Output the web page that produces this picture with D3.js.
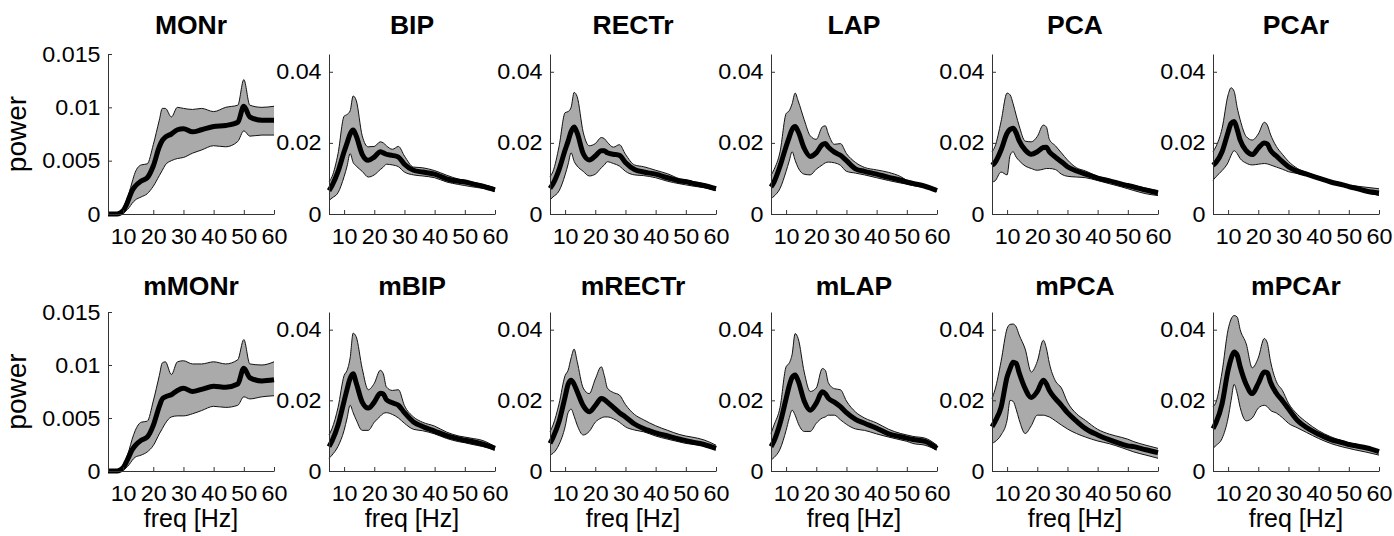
<!DOCTYPE html>
<html>
<head>
<meta charset="utf-8">
<script src="https://cdn.jsdelivr.net/npm/d3@7"></script>
<style>
  body { margin: 0; background: #fff; }
  text { font-family: "Liberation Sans", Arial, Helvetica, sans-serif; fill: #000; }
</style>
</head>
<body>
<svg id="chart" width="1394" height="536"></svg>
<script>
// frequency samples (Hz) shared by every panel
var freq = [5, 6, 8, 10, 11, 12, 13, 14, 16, 18, 20, 22, 23, 24, 26, 28, 30, 33, 36, 40, 44, 48, 50, 52, 56, 60];

// ---- top row ----
var monrMean  = [0, 0, 0, .0003, .0008, .0015, .0022, .0026, .0031, .0034, .0045, .0063, .0069, .0072, .0075, .0079, .008, .0077, .0079, .0082, .0083, .0086, .0101, .0091, .0088, .0088];
var monrUpper = [0, 0, .0001, .0006, .0012, .002, .003, .0039, .0046, .0047, .0065, .0088, .0099, .0099, .0091, .01, .0099, .0098, .0099, .0096, .01, .0102, .0126, .0102, .01, .0101];
var monrLower = [0, 0, 0, .0001, .0003, .0006, .001, .0013, .0016, .0019, .0026, .0036, .0041, .0046, .005, .0052, .0053, .0057, .006, .0064, .0063, .0068, .0078, .0073, .0074, .0074];

var bipMean  = [.0066, .008, .012, .0175, .02, .0225, .0236, .022, .0168, .0151, .016, .0175, .0172, .0168, .0165, .016, .014, .0123, .0118, .0112, .0099, .0092, .009, .0086, .0078, .0068];
var bipUpper = [.009, .0105, .017, .0275, .028, .029, .0332, .032, .022, .0189, .019, .0203, .02, .0192, .0182, .019, .0163, .0132, .013, .0122, .0109, .0098, .0095, .0091, .0083, .0074];
var bipLower = [.0038, .0045, .006, .0105, .0135, .017, .0145, .0135, .012, .0104, .011, .0125, .0132, .014, .0138, .0133, .0118, .011, .0107, .0102, .009, .0083, .008, .0077, .0072, .0064];

var rectrMean  = [.0072, .0085, .0125, .018, .0205, .0232, .0245, .0228, .017, .0152, .0163, .0178, .0178, .0172, .0168, .0165, .0145, .0125, .0118, .0112, .0102, .0093, .0091, .0087, .008, .0071];
var rectrUpper = [.0105, .012, .019, .0285, .0288, .03, .0342, .033, .023, .0192, .0198, .0215, .0212, .0202, .0188, .0195, .0168, .0138, .0133, .0123, .0113, .0099, .0096, .0092, .0085, .0075];
var rectrLower = [.004, .0048, .0065, .011, .014, .0172, .0148, .0135, .012, .0107, .0112, .013, .0138, .0147, .0142, .0135, .012, .011, .0108, .0102, .0092, .0085, .0082, .0079, .0074, .0066];

var lapMean  = [.0076, .009, .0135, .019, .0215, .0238, .0246, .0232, .0185, .0162, .0172, .0195, .0198, .0188, .0174, .0165, .015, .0127, .012, .0112, .0103, .0095, .009, .0086, .0078, .0066];
var lapUpper = [.0109, .0125, .0175, .0282, .029, .031, .034, .0318, .0265, .022, .021, .0245, .0248, .0225, .0196, .0198, .017, .0145, .0131, .0124, .0117, .0105, .0095, .0091, .0082, .0071];
var lapLower = [.0043, .005, .0072, .012, .0148, .0175, .0151, .013, .0112, .011, .0126, .0138, .0144, .0146, .0144, .0137, .012, .0115, .011, .0102, .0094, .0087, .0084, .008, .0074, .0064];

var pcaMean  = [.0137, .0145, .018, .0227, .0238, .0241, .0228, .0206, .018, .0168, .0175, .0187, .0188, .0175, .016, .0147, .0133, .0121, .0112, .0101, .0093, .0084, .008, .0076, .0067, .0059];
var pcaUpper = [.0175, .019, .026, .034, .0335, .031, .0278, .0248, .0205, .0203, .0218, .025, .0245, .021, .0192, .0172, .0152, .013, .0121, .0106, .0097, .0088, .0084, .008, .0073, .0066];
var pcaLower = [.009, .0093, .0118, .011, .0165, .0175, .016, .015, .0135, .0128, .0123, .0126, .0128, .0128, .0125, .0112, .0106, .0104, .0102, .0094, .0085, .0076, .0071, .0066, .0057, .0052];

var pcarMean  = [.0137, .0145, .0175, .023, .0255, .026, .0238, .0208, .0178, .0167, .0185, .02, .0197, .018, .0163, .0147, .0133, .012, .0112, .0101, .009, .0082, .0077, .0073, .0064, .0059];
var pcarUpper = [.0175, .019, .024, .0335, .0355, .0345, .03, .0265, .0218, .0208, .0225, .0258, .025, .0225, .019, .0168, .0148, .0128, .0117, .0105, .0094, .0086, .0081, .0079, .0075, .0071];
var pcarLower = [.0095, .0105, .0122, .0145, .0165, .0178, .017, .0156, .0143, .0138, .014, .0142, .0141, .0138, .0132, .0126, .0119, .0114, .0108, .0098, .0088, .0078, .0074, .007, .006, .0052];

// ---- bottom row ----
var mmonrMean  = [0, 0, 0, .0003, .0008, .0014, .002, .0024, .0029, .0032, .0043, .0061, .0068, .007, .0072, .0076, .0078, .0075, .0077, .008, .0079, .0082, .0097, .0088, .0085, .0086];
var mmonrUpper = [0, 0, .0001, .0006, .0012, .002, .003, .0038, .0046, .0047, .0066, .009, .0102, .0103, .0091, .0103, .0104, .0101, .0101, .0103, .0101, .0105, .0124, .0101, .01, .0103];
var mmonrLower = [0, 0, 0, .0001, .0003, .0006, .001, .0013, .0015, .0018, .0024, .0035, .004, .0045, .0051, .0052, .0052, .0054, .0057, .0061, .006, .0062, .007, .0068, .007, .0071];

var mbipMean  = [.0069, .0085, .013, .0198, .0232, .0262, .0275, .025, .0195, .0178, .0195, .022, .0218, .0202, .0193, .0186, .0165, .0139, .0126, .0113, .01, .0091, .0087, .0084, .0076, .0064];
var mbipUpper = [.0102, .012, .018, .027, .0285, .032, .039, .038, .029, .023, .0248, .0285, .0275, .0238, .0228, .023, .0185, .0153, .0138, .0127, .011, .0099, .0096, .0093, .0086, .0069];
var mbipLower = [.0036, .0045, .007, .0115, .015, .0186, .0165, .0145, .0115, .0115, .0138, .0155, .0163, .0165, .016, .015, .0135, .0118, .0114, .0105, .0092, .0083, .008, .0076, .0069, .0059];

var mrectrMean  = [.0078, .0095, .014, .021, .0245, .0257, .0245, .0225, .0185, .0168, .0185, .0205, .0202, .0195, .018, .0165, .0153, .0133, .012, .0108, .0099, .009, .0086, .0082, .0075, .0064];
var mrectrUpper = [.0111, .013, .019, .027, .0285, .032, .0345, .031, .0235, .0219, .026, .0295, .027, .0235, .0222, .0215, .0188, .016, .0145, .0128, .0115, .0103, .0099, .0096, .0088, .0073];
var mrectrLower = [.0045, .005, .0075, .0125, .0165, .0175, .0155, .013, .0102, .0112, .0138, .015, .0153, .0153, .0148, .0138, .0125, .0116, .0111, .0099, .009, .0082, .0078, .0076, .0071, .0059];

var mlapMean  = [.0069, .0085, .0135, .0205, .024, .0265, .0272, .0255, .0198, .0172, .0192, .0224, .0219, .0206, .0195, .0182, .0165, .0146, .0135, .0121, .0105, .0097, .0093, .0089, .0084, .0064];
var mlapUpper = [.0106, .013, .018, .0295, .0305, .033, .0389, .0375, .028, .0225, .0235, .029, .0285, .025, .0233, .023, .0198, .0167, .015, .0136, .0118, .0106, .0102, .0098, .0093, .0073];
var mlapLower = [.0031, .0038, .0062, .0115, .0148, .0172, .0158, .0135, .0112, .0112, .0135, .015, .0153, .0158, .0158, .0145, .0132, .0119, .0115, .0105, .0096, .0088, .0084, .0078, .0073, .0059];

var mpcaMean  = [.0125, .014, .018, .0266, .029, .0308, .0305, .0278, .0233, .0208, .0225, .0257, .0247, .0228, .0205, .0186, .0165, .0141, .012, .0102, .0088, .0076, .0071, .0069, .006, .0052];
var mpcaUpper = [.0205, .023, .031, .0403, .0415, .0416, .0408, .0385, .0345, .028, .031, .037, .0348, .0305, .0255, .0235, .0195, .0162, .0143, .0118, .0104, .0095, .009, .0083, .0073, .0064];
var mpcaLower = [.0078, .0083, .0102, .0144, .02, .0197, .0175, .0145, .0106, .0128, .0158, .0158, .0156, .0153, .0142, .013, .0119, .0106, .0096, .0085, .0077, .0066, .006, .0054, .0045, .0036];

var mpcarMean  = [.012, .0137, .019, .0285, .0318, .0337, .0328, .0295, .0245, .0219, .0248, .028, .0278, .0252, .022, .0199, .0176, .0143, .0123, .0104, .0089, .008, .0075, .0072, .0065, .0055];
var mpcarUpper = [.0182, .0195, .028, .04, .043, .044, .0436, .04, .036, .0292, .032, .0375, .0362, .0313, .0253, .0228, .0192, .016, .0138, .0114, .0097, .0085, .008, .0075, .0066, .0059];
var mpcarLower = [.0064, .0072, .0092, .015, .02, .0245, .022, .018, .0142, .015, .0178, .0186, .0182, .0172, .0164, .0151, .0135, .0122, .0109, .0092, .0078, .0068, .0064, .006, .0053, .0045];

// titles and axis ticks
var titlesTop    = ['MONr', 'BIP', 'RECTr', 'LAP', 'PCA', 'PCAr'];
var titlesBottom = ['mMONr', 'mBIP', 'mRECTr', 'mLAP', 'mPCA', 'mPCAr'];
var xTicks = [10, 20, 30, 40, 50, 60];
var yTicksMon = [0, 0.005, 0.01, 0.015];
var yTicksRest = [0, 0.02, 0.04];

var rows = [
  [[monrMean, monrUpper, monrLower], [bipMean, bipUpper, bipLower], [rectrMean, rectrUpper, rectrLower],
   [lapMean, lapUpper, lapLower], [pcaMean, pcaUpper, pcaLower], [pcarMean, pcarUpper, pcarLower]],
  [[mmonrMean, mmonrUpper, mmonrLower], [mbipMean, mbipUpper, mbipLower], [mrectrMean, mrectrUpper, mrectrLower],
   [mlapMean, mlapUpper, mlapLower], [mpcaMean, mpcaUpper, mpcaLower], [mpcarMean, mpcarUpper, mpcarLower]]
];
var titles = [titlesTop, titlesBottom];

// layout
var left0 = 108, colStep = 221, plotW = 166;
var rowTop = [54, 312], plotH = [160, 159], titleGap = [20, 17];

var svg = d3.select('#chart');

var drawPanel = function(r, c){
  var series = rows[r][c];
  var isMon = (c === 0);
  var yMax = isMon ? 0.015 : 0.045;

  var x = d3.scaleLinear().domain([5, 60]).range([0, plotW]);
  var y = d3.scaleLinear().domain([0, yMax]).range([plotH[r], 0]);

  var g = svg.append('g')
    .attr('transform', 'translate(' + (left0 + c * colStep) + ',' + rowTop[r] + ')');

  var pts = freq.map(function(f, i){
    return { f: f, m: series[0][i], hi: series[1][i], lo: series[2][i] };
  });

  var band = d3.area()
    .curve(d3.curveMonotoneX)
    .x(function(d){ return x(d.f); })
    .y0(function(d){ return y(d.lo); })
    .y1(function(d){ return y(d.hi); });

  g.append('path')
    .datum(pts)
    .attr('d', band)
    .attr('fill', '#aaaaaa')
    .attr('stroke', 'none');

  ['hi', 'lo'].forEach(function(k){
    g.append('path')
      .datum(pts)
      .attr('d', d3.line().curve(d3.curveMonotoneX)
        .x(function(d){ return x(d.f); }).y(function(d){ return y(d[k]); }))
      .attr('fill', 'none')
      .attr('stroke', '#111')
      .attr('stroke-width', 1);
  });

  g.append('path')
    .datum(pts)
    .attr('d', d3.line().curve(d3.curveMonotoneX)
      .x(function(d){ return x(d.f); }).y(function(d){ return y(d.m); }))
    .attr('fill', 'none')
    .attr('stroke', '#000')
    .attr('stroke-width', 5)
    .attr('stroke-linejoin', 'round');

  // axes, MATLAB style: ticks point inward
  var xAxis = d3.axisBottom(x).tickValues(xTicks).tickSizeInner(-4).tickSizeOuter(0).tickPadding(14);
  var yAxis = d3.axisLeft(y).tickValues(isMon ? yTicksMon : yTicksRest)
    .tickFormat(function(d){ return String(d); })
    .tickSizeInner(-4).tickSizeOuter(0).tickPadding(7);

  var gx = g.append('g').attr('transform', 'translate(0,' + plotH[r] + ')').call(xAxis);
  var gy = g.append('g').call(yAxis);

  [gx, gy].forEach(function(a){
    a.select('.domain').attr('stroke', '#333');
    a.selectAll('.tick line').attr('stroke', '#333');
    a.selectAll('.tick text')
      .attr('font-size', 22)
      .attr('transform', 'scale(1.06,1)')
      .attr('font-family', '"Liberation Sans", Arial, sans-serif')
      .attr('fill', '#000');
  });

  g.append('text')
    .attr('x', plotW / 2)
    .attr('y', -titleGap[r])
    .attr('text-anchor', 'middle')
    .attr('font-size', 26.5)
    .attr('font-weight', 'bold')
    .text(titles[r][c]);

  if (r === 1) {
    g.append('text')
      .attr('x', plotW / 2)
      .attr('y', plotH[r] + 56)
      .attr('text-anchor', 'middle')
      .attr('font-size', 25)
      .text('freq [Hz]');
  }

  if (c === 0) {
    g.append('text')
      .attr('transform', 'translate(' + (26 - left0) + ',' + (plotH[r] / 2) + ') rotate(-90)')
      .attr('text-anchor', 'middle')
      .attr('font-size', 28)
      .text('power');
  }
};

for (var r = 0; r < 2; r++) {
  for (var c = 0; c < 6; c++) {
    drawPanel(r, c);
  }
}
</script>
</body>
</html>
